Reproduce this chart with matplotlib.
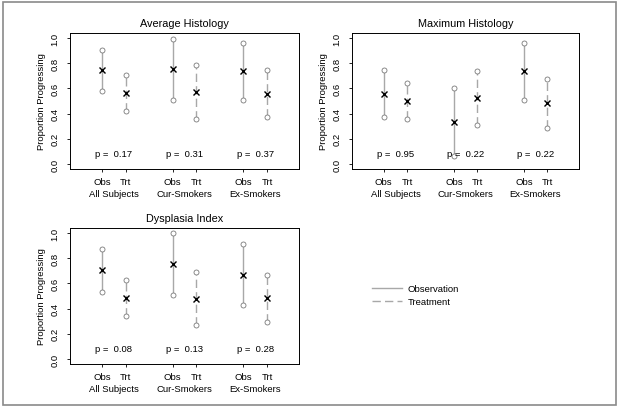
import matplotlib
matplotlib.use("Agg")
import matplotlib.pyplot as plt
from matplotlib.lines import Line2D
from matplotlib.patches import Rectangle

plt.rcParams['font.family'] = ['Liberation Sans', 'DejaVu Sans']

W, H = 619, 410

groups = ["All Subjects", "Cur-Smokers", "Ex-Smokers"]
arms = ["Obs", "Trt"]
xpos = [1, 2, 4, 5, 7, 8]

# (lo, est, hi) for Obs/Trt in each group
avg_lo = [0.576, 0.422, 0.504, 0.358, 0.509, 0.369]
avg_est = [0.745, 0.565, 0.753, 0.570, 0.735, 0.557]
avg_hi = [0.907, 0.703, 0.995, 0.785, 0.958, 0.745]
avg_p = ["0.17", "0.31", "0.37"]

max_lo = [0.369, 0.358, 0.066, 0.310, 0.509, 0.289]
max_est = [0.554, 0.499, 0.334, 0.525, 0.735, 0.483]
max_hi = [0.745, 0.642, 0.600, 0.740, 0.960, 0.674]
max_p = ["0.95", "0.22", "0.22"]

dys_lo = [0.529, 0.341, 0.505, 0.267, 0.431, 0.294]
dys_est = [0.709, 0.484, 0.754, 0.479, 0.667, 0.484]
dys_hi = [0.876, 0.624, 1.000, 0.693, 0.910, 0.669]
dys_p = ["0.08", "0.13", "0.28"]

panels = [
    ("Average Histology", avg_lo, avg_est, avg_hi, avg_p, (70, 34, 299, 170)),
    ("Maximum Histology", max_lo, max_est, max_hi, max_p, (352, 34, 579, 170)),
    ("Dysplasia Index", dys_lo, dys_est, dys_hi, dys_p, (70, 229, 299, 365)),
]

line_col = "#a8a8a8"
pt_col = "#7a7a7a"
fs = 6.8

fig = plt.figure(figsize=(W / 100, H / 100), dpi=100)
fig.patch.set_facecolor("white")

for title, lo, est, hi, pv, (l, t, r, b) in panels:
    ax = fig.add_axes([l / W, 1 - b / H, (r - l) / W, (b - t) / H])
    for i, x in enumerate(xpos):
        ls = "-" if i % 2 == 0 else (0, (6, 3))
        ax.plot([x, x], [lo[i], hi[i]], color=line_col, lw=1.0, linestyle=ls, zorder=1)
        ax.plot([x, x], [lo[i], hi[i]], linestyle="none", marker="o", ms=3.6,
                mfc="white", mec=pt_col, mew=0.6, zorder=2)
        ax.plot(x, est[i], marker="x", ms=4.0, color="black", mew=1.0, zorder=3)
    for g in range(3):
        ax.text(1.5 + 3 * g, 0.085, "p =  " + pv[g], ha="center", va="center", fontsize=fs)
        ax.text(1.5 + 3 * g, -0.235, groups[g], ha="center", va="center", fontsize=fs)
    ax.set_xlim(-0.36, 9.36)
    ax.set_ylim(-0.04, 1.04)
    ax.set_xticks(xpos)
    ax.set_xticklabels(arms * 3, fontsize=fs)
    ax.set_yticks([0, 0.2, 0.4, 0.6, 0.8, 1.0])
    ax.set_yticklabels(["0.0", "0.2", "0.4", "0.6", "0.8", "1.0"], fontsize=fs,
                       rotation=90, va="center")
    ax.tick_params(axis="both", length=2.5, width=0.6)
    ax.tick_params(axis="x", pad=3)
    ax.tick_params(axis="y", pad=5)
    ax.set_ylabel("Proportion Progressing", fontsize=fs, labelpad=3)
    ax.set_title(title, fontsize=7.8, pad=5)
    for s in ax.spines.values():
        s.set_linewidth(0.7)

handles = [Line2D([], [], color=line_col, lw=1.0),
           Line2D([], [], color=line_col, lw=1.0, linestyle=(0, (6, 3)))]
fig.legend(handles, ["Observation", "Treatment"], loc="center left",
           bbox_to_anchor=(363 / W, 1 - 296 / H), frameon=False, fontsize=fs,
           handlelength=3.2, handletextpad=0.6, labelspacing=0.45)

fig.add_artist(Rectangle((3 / W, 4 / H), 613 / W, 403 / H, transform=fig.transFigure,
                         fill=False, edgecolor="#8a8a8a", lw=1.2))

fig.savefig("out.png", dpi=100)
